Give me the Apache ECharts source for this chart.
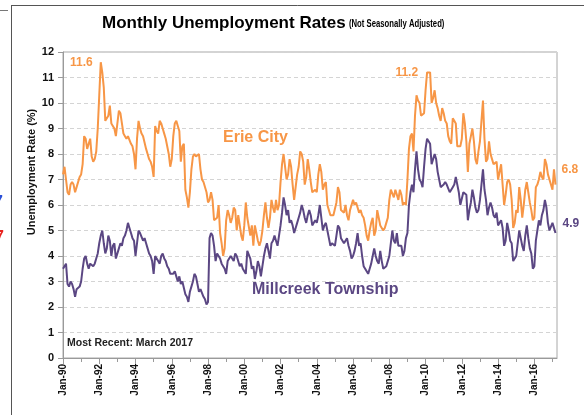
<!DOCTYPE html>
<html>
<head>
<meta charset="utf-8">
<script src="https://cdn.jsdelivr.net/npm/echarts@6/dist/echarts.min.js"></script>
<style>html,body{margin:0;padding:0;background:#fff;}#c{width:584px;height:415px;}</style>
</head>
<body>
<div id="c"></div>
<script>
// Tick label pieces
const monthNames = ['Jan','Feb','Mar','Apr','May','Jun','Jul','Aug','Sep','Oct','Nov','Dec'];
const firstYear = 1990, lastYear = 2017, lastMonthIdx = 3; // axis runs to Apr-17
const yTicks = [0,1,2,3,4,5,6,7,8,9,10,11,12];

// Erie City monthly rates, Jan-1990 .. Mar-2017
const erieCity = [
  7.2,7.5,7.0,6.5,6.4,6.8,6.9,6.8,6.5,6.7,6.7,7.1,      // 1990
  7.2,7.6,8.7,8.6,8.2,8.4,8.6,7.9,7.7,7.8,8.1,9.0,      // 1991
  10.3,11.6,11.2,10.6,9.3,9.4,9.5,9.9,9.2,9.1,9.0,8.7,  // 1992
  8.7,9.7,9.6,9.2,8.8,8.7,8.6,8.7,8.7,8.4,8.3,8.0,      // 1993
  7.4,8.6,9.3,9.0,8.8,8.7,8.7,8.2,8.0,7.8,7.7,7.5,      // 1994
  7.1,9.1,8.9,8.8,9.3,9.2,9.0,8.8,8.6,8.6,8.0,7.5,      // 1995
  7.8,8.7,9.2,9.3,9.1,8.9,7.7,8.3,8.4,6.6,6.3,5.9,      // 1996
  6.5,7.4,7.9,8.0,7.9,7.9,8.0,7.4,7.0,6.9,6.9,6.5,      // 1997
  6.1,6.2,6.5,6.2,5.4,5.4,5.5,6.0,4.9,4.5,4.0,4.3,      // 1998
  5.4,5.8,5.6,5.3,5.5,5.9,5.8,5.0,5.6,5.2,4.8,4.6,      // 1999
  5.2,6.1,5.5,5.5,4.8,5.2,4.4,5.2,4.9,4.6,4.4,4.6,      // 2000
  5.0,5.6,6.1,5.5,5.1,5.5,6.2,5.9,5.7,6.2,5.8,6.0,      // 2001
  6.9,7.6,8.0,8.0,7.0,7.2,7.8,7.5,6.8,6.2,6.7,7.2,      // 2002
  7.5,8.1,8.0,7.7,6.8,7.1,7.8,7.4,6.9,6.5,6.5,6.6,      // 2003
  6.5,7.2,7.6,7.3,6.6,6.8,6.9,6.0,5.8,5.6,5.6,5.6,      // 2004
  5.6,6.1,6.7,6.5,5.8,5.8,5.7,6.0,5.6,5.4,5.8,6.0,      // 2005
  6.2,6.0,6.1,6.1,5.7,5.8,5.6,5.5,5.2,4.8,4.6,5.0,      // 2006
  5.3,5.5,4.8,5.0,5.8,5.5,5.2,5.2,5.0,5.1,5.3,5.5,      // 2007
  6.2,6.6,6.6,6.3,6.6,6.4,6.2,6.6,6.4,6.0,6.1,6.0,      // 2008
  7.0,8.2,8.7,8.8,8.1,9.5,10.3,10.1,10.0,9.5,9.5,9.6,   // 2009
  10.5,11.2,11.2,11.2,10.0,10.2,10.5,10.0,9.8,9.5,9.3,9.8, // 2010
  9.6,9.3,9.2,8.7,8.5,8.4,9.4,9.3,9.2,8.3,8.3,8.3,      // 2011
  8.6,9.6,9.2,8.5,7.3,8.4,8.7,9.0,8.5,7.8,7.6,8.1,      // 2012
  8.5,9.3,10.1,8.6,7.7,7.8,8.5,8.0,7.8,7.6,7.6,7.7,     // 2013
  7.0,7.3,7.6,6.8,6.0,6.4,6.9,7.0,6.8,6.2,5.1,5.3,      // 2014
  5.8,5.7,6.7,6.2,5.5,6.0,6.6,6.9,6.5,6.1,5.8,5.4,      // 2015
  5.5,6.7,6.8,7.0,7.3,7.1,7.0,7.8,7.6,7.2,7.0,7.0,      // 2016
  6.6,7.4,6.8                                           // 2017
];

// Millcreek Township monthly rates, Jan-1990 .. Mar-2017
const millcreek = [
  3.5,3.6,3.7,2.9,2.8,3.0,2.9,2.7,2.4,2.7,2.7,2.8,      // 1990
  3.0,3.5,3.9,4.0,3.7,3.5,3.7,3.7,3.6,3.7,3.9,4.1,      // 1991
  4.5,4.8,5.0,4.5,4.1,4.3,4.8,4.6,4.0,4.4,4.5,3.9,      // 1992
  3.9,4.3,4.5,4.4,4.7,4.8,5.0,5.3,5.1,4.9,4.7,4.6,      // 1993
  4.0,4.5,5.0,4.9,4.9,4.6,4.7,4.5,4.3,4.1,4.0,3.8,      // 1994
  3.3,4.0,4.0,3.8,3.7,4.0,4.1,3.9,3.8,3.6,3.5,3.3,      // 1995
  3.3,3.3,3.4,3.2,3.0,3.2,2.9,3.0,3.0,2.5,2.4,2.2,      // 1996
  2.6,2.8,3.0,3.3,3.2,2.9,2.6,2.7,2.7,2.4,2.3,2.1,      // 1997
  2.2,4.7,4.9,4.8,4.4,3.8,4.1,4.0,3.9,3.7,3.6,3.5,      // 1998
  3.3,3.8,3.8,4.0,3.9,3.8,4.1,4.0,4.0,3.6,3.7,3.5,      // 1999
  3.4,3.3,4.2,4.2,3.9,3.5,3.6,3.1,3.4,3.8,3.6,3.2,      // 2000
  3.6,4.0,4.3,4.5,4.2,3.9,4.5,4.6,4.8,4.6,4.4,4.8,      // 2001
  5.2,5.7,6.3,6.0,5.6,5.8,5.3,5.4,5.2,4.9,5.1,5.3,      // 2002
  5.5,5.7,6.0,5.8,5.5,5.3,5.6,5.8,5.6,5.2,5.3,5.4,      // 2003
  5.3,5.6,6.0,5.5,5.0,5.2,5.3,5.0,4.7,4.4,4.5,4.5,      // 2004
  4.4,4.8,5.2,5.1,4.7,4.6,4.5,4.5,4.7,4.4,4.2,3.9,      // 2005
  4.0,4.2,4.5,4.9,4.4,4.5,4.0,3.6,3.5,3.4,3.3,3.5,      // 2006
  3.7,4.0,4.3,4.0,3.8,3.7,4.2,3.8,3.5,3.5,3.6,3.8,      // 2007
  4.0,4.5,5.0,4.6,4.5,4.9,4.4,4.4,4.4,4.0,4.2,4.7,      // 2008
  4.9,6.0,6.5,6.8,6.5,7.4,8.1,7.4,7.0,6.9,6.7,7.5,      // 2009
  8.2,8.6,8.5,8.4,7.6,7.8,8.0,7.8,7.3,7.0,6.7,6.7,      // 2010
  6.8,6.9,6.8,6.8,6.5,6.6,6.7,6.8,7.1,6.8,6.5,6.0,      // 2011
  6.0,6.5,6.5,6.4,5.4,5.8,6.1,6.6,6.3,5.9,5.7,5.8,      // 2012
  6.2,6.8,7.4,6.6,6.2,5.6,5.9,6.1,5.9,5.6,5.5,5.7,      // 2013
  5.2,5.3,5.4,5.1,4.4,4.6,5.3,5.0,4.6,4.5,3.8,3.9,      // 2014
  4.0,4.5,5.0,4.7,4.4,4.2,4.8,5.2,4.7,4.3,4.1,3.5,      // 2015
  3.6,4.6,5.0,5.4,5.2,5.6,5.8,6.2,5.9,5.3,5.0,5.0,      // 2016
  5.3,5.3,4.9                                           // 2017
];

const categories = [];
for (let y = firstYear; y <= lastYear; y++) {
  for (let m = 0; m < 12; m++) {
    if (y === lastYear && m > lastMonthIdx) break;
    categories.push(monthNames[m] + '-' + String(y % 100).padStart(2, '0'));
  }
}

const ORANGE = '#F79646';
const PURPLE = '#5B4783';
const FONT = 'Liberation Sans, Arial, sans-serif';

const erieMax1 = 25, erieMax2 = 241, lastIdx = erieCity.length - 1;
const lblBase = {show: true, fontFamily: FONT, fontWeight: 'bold', fontSize: 12};
function mp(idx, arr, color, extra) {
  return {coord: [idx, arr[idx]], value: arr[idx],
    label: Object.assign({}, lblBase, {color: color, formatter: arr[idx].toFixed(1)}, extra)};
}

const chart = echarts.init(document.getElementById('c'), null, {renderer: 'canvas'});
const xBase = {type: 'category', data: categories, boundaryGap: false, gridIndex: 0, position: 'bottom'};
chart.setOption({
  animation: false,
  textStyle: {fontFamily: FONT},
  grid: {left: 63, right: 27, top: 52, bottom: 57, show: true, borderColor: '#a8a8a8', borderWidth: 1, backgroundColor: 'transparent'},
  xAxis: [
    Object.assign({}, xBase, {
      axisLine: {show: true, lineStyle: {color: '#9a9a9a', width: 1}},
      axisTick: {show: true, interval: 11, length: 4, lineStyle: {color: '#9a9a9a'}},
      axisLabel: {interval: 23, rotate: 90, margin: 6, fontSize: 10, fontWeight: 'bold', color: '#111', fontFamily: FONT},
      splitLine: {show: false}
    }),
    Object.assign({}, xBase, {
      axisLine: {show: false},
      axisTick: {show: true, interval: 23, length: 6, lineStyle: {color: '#9a9a9a'}},
      axisLabel: {show: false},
      splitLine: {show: false}
    })
  ],
  yAxis: {
    type: 'value', min: yTicks[0], max: yTicks[yTicks.length - 1], interval: 1,
    axisLine: {show: true, lineStyle: {color: '#9a9a9a'}},
    axisTick: {show: true, length: 5, lineStyle: {color: '#9a9a9a'}},
    axisLabel: {margin: 9, fontSize: 11, fontWeight: 'bold', color: '#111', fontFamily: FONT},
    splitLine: {show: true, lineStyle: {color: '#d4d4d4', type: [4, 3], width: 1}}
  },
  series: [
    {name: 'Erie City', type: 'line', data: erieCity, xAxisIndex: 0, showSymbol: false, symbol: 'none',
     lineStyle: {color: ORANGE, width: 2}, itemStyle: {color: ORANGE}, z: 3,
     markPoint: {symbol: 'circle', symbolSize: 0, silent: true, animation: false, data: [
       mp(erieMax1, erieCity, ORANGE, {position: 'left', distance: 8}),
       mp(erieMax2, erieCity, ORANGE, {position: 'left', distance: 9}),
       mp(lastIdx, erieCity, ORANGE, {position: 'right', distance: 6, offset: [0, -15]})
     ]}},
    {name: 'Millcreek Township', type: 'line', data: millcreek, xAxisIndex: 0, showSymbol: false, symbol: 'none',
     lineStyle: {color: PURPLE, width: 2}, itemStyle: {color: PURPLE}, z: 4,
     markPoint: {symbol: 'circle', symbolSize: 0, silent: true, animation: false, data: [
       mp(lastIdx, millcreek, PURPLE, {position: 'right', distance: 7, offset: [0, -9]})
     ]}}
  ],
  graphic: [
    // outer frame
    {type: 'line', shape: {x1: 11.5, y1: 5, x2: 11.5, y2: 415}, style: {stroke: '#555', lineWidth: 1}, silent: true},
    {type: 'line', shape: {x1: 11.5, y1: 5.5, x2: 584, y2: 5.5}, style: {stroke: '#555', lineWidth: 1}, silent: true},
    {type: 'line', shape: {x1: 0, y1: 10.5, x2: 8, y2: 10.5}, style: {stroke: '#777', lineWidth: 1}, silent: true},
    {type: 'text', x: -6, y: 203, style: {text: '7', fill: '#2a4fd8', font: 'bold 16px ' + FONT, textVerticalAlign: 'middle'}, silent: true},
    {type: 'text', x: -5, y: 238, style: {text: '7', fill: '#e8231f', font: 'bold 16px ' + FONT, textVerticalAlign: 'middle'}, silent: true},
    // title
    {type: 'text', x: 102, y: 23, style: {text: 'Monthly Unemployment Rates', font: 'bold 17px ' + FONT, fill: '#000', textVerticalAlign: 'middle'}, silent: true},
    {type: 'text', x: 349, y: 24, scaleX: 0.7, style: {text: '(Not Seasonally Adjusted)', font: 'bold 11px ' + FONT, fill: '#000', textVerticalAlign: 'middle'}, silent: true},
    // y axis name
    {type: 'text', x: 32, y: 172, rotation: Math.PI / 2, style: {text: 'Unemployment Rate (%)', font: 'bold 11px ' + FONT, fill: '#111', textAlign: 'center', textVerticalAlign: 'middle'}, silent: true},
    // annotations
    {type: 'text', x: 67, y: 343, style: {text: 'Most Recent: March 2017', font: 'bold 10.5px ' + FONT, fill: '#222', textVerticalAlign: 'middle'}, silent: true},
    {type: 'text', x: 223, y: 138, style: {text: 'Erie City', font: 'bold 16px ' + FONT, fill: ORANGE, textVerticalAlign: 'middle'}, silent: true},
    {type: 'text', x: 252, y: 290, style: {text: 'Millcreek Township', font: 'bold 16px ' + FONT, fill: PURPLE, textVerticalAlign: 'middle'}, silent: true}
  ]
});
</script>
</body>
</html>
